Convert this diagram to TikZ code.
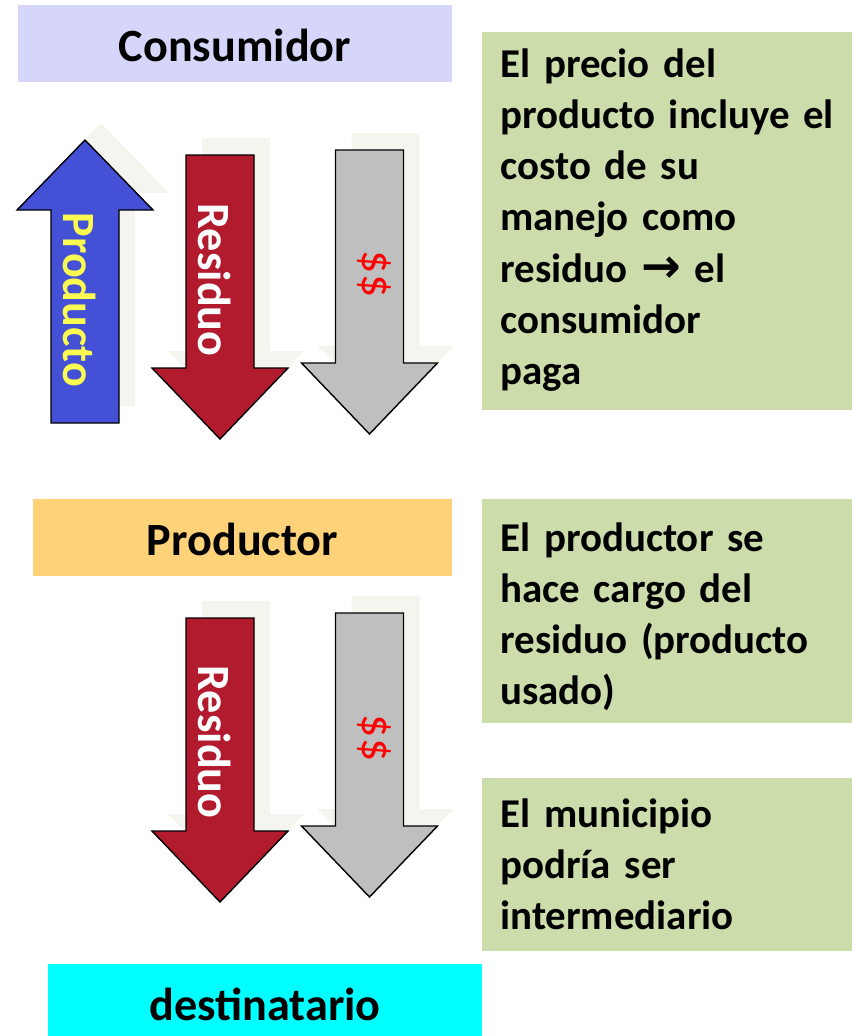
\documentclass[tikz,border=0pt]{standalone}
\usepackage{fontspec}
\setmainfont{Carlito}
\newfontfamily\flechafont{DejaVu Sans}
\usetikzlibrary{positioning}
\definecolor{lila}{RGB}{214,214,250}
\definecolor{naranja}{RGB}{253,210,120}
\definecolor{celeste}{RGB}{0,255,255}
\definecolor{verde}{RGB}{205,220,171}
\definecolor{azul}{RGB}{68,80,214}
\definecolor{rojo}{RGB}{178,26,45}
\definecolor{gris}{RGB}{191,191,191}
\definecolor{sombrita}{RGB}{244,245,239}
\definecolor{amarillo}{RGB}{250,250,80}
% flecha hacia abajo: estilo, x del centro, y de arriba (en px)
\newcommand{\flechabajo}[3]{%
  \path[#1] (#2-34,#3) -- ++(68,0) -- ++(0,213) -- ++(34,0) -- ++(-68,71)
    -- ++(-68,-71) -- ++(34,0) -- cycle;}
\newcommand{\flecharriba}[1]{%
  \path[#1] (85,140) -- (153,210) -- (119,210) -- (119,423) -- (51,423)
    -- (51,210) -- (17,210) -- cycle;}

\begin{document}
\begin{tikzpicture}
    [x=0.02cm, y=-0.02cm,
    caja/.style={inner sep=0pt, font=\fontsize{26.3}{31}\selectfont\bfseries,
      text height=0.72cm, text depth=0pt, minimum height=1.54cm},
    nota/.style={fill=verde, minimum width=7.4cm, anchor=north west, inner sep=0pt},
    notatexto/.style={anchor=base west, inner sep=0pt, text width=7cm, align=left,
      font=\fontsize{23.3}{29.2}\selectfont\bfseries},
    rotulo/.style={rotate=-90, inner sep=0pt, font=\fontsize{26.3}{31}\selectfont\bfseries},
    sombra/.style={fill=sombrita, shift={(16,-17)}},
    flecha/.style={draw=black, line width=0.8pt, line join=miter}]
  \useasboundingbox (0,0) rectangle (852,1036);

  % cajas de titulo
  \node[caja, fill=lila, minimum width=8.68cm] (consumidor) at (235,43.5) {Consumidor};
  \node[caja, fill=naranja, minimum width=8.38cm] (productor) at (242.5,537.5) {Productor};
  \node[caja, fill=celeste, minimum width=8.68cm] (destinatario) at (265,1002) {destinatario};

  % notas
  \node[nota, minimum height=7.56cm] (nota1) at (482,32) {};
  \node[nota, minimum height=4.48cm] (nota2) at (482,499) {};
  \node[nota, minimum height=3.46cm] (nota3) at (482,778) {};
  \node[notatexto] (texto1) at (500,77) {El precio del\\ producto incluye el\\ costo de su\\
    manejo como\\ residuo {\flechafont\bfseries\fontsize{27}{29.2}\selectfont\symbol{"2192}} el\\ consumidor\\ paga};
  \node[notatexto] (texto2) at (500,551) {El productor se\\ hace cargo del\\
    residuo (producto\\ usado)};
  \node[notatexto] (texto3) at (500,827) {El municipio\\ podría ser\\ intermediario};

  % sombras
  \flecharriba{sombra}
  \flechabajo{sombra}{220}{155}
  \flechabajo{sombra}{369.5}{150}
  \flechabajo{sombra}{220}{618}
  \flechabajo{sombra}{369.5}{613}

  % flechas
  \flecharriba{flecha, fill=azul}
  \flechabajo{flecha, fill=rojo}{220}{155}
  \flechabajo{flecha, fill=gris}{369.5}{150}
  \flechabajo{flecha, fill=rojo}{220}{618}
  \flechabajo{flecha, fill=gris}{369.5}{613}

  \node[rotulo, text=amarillo] (producto) at (80,300) {Producto};
  \node[rotulo, text=white] (residuo1) at (215,280) {Residuo};
  \node[rotulo, text=red, font=\fontsize{26}{31}\selectfont] (dinero1) at (374,274) {\$\$};
  \node[rotulo, text=white] (residuo2) at (215,742) {Residuo};
  \node[rotulo, text=red, font=\fontsize{26}{31}\selectfont] (dinero2) at (374,738) {\$\$};
\end{tikzpicture}
\end{document}
